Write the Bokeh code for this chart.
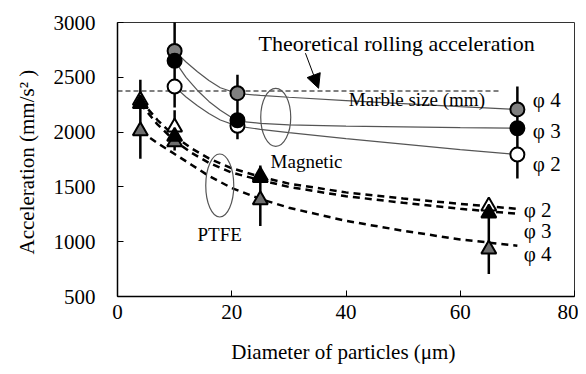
from bokeh.plotting import figure
from bokeh.models import Range1d, FixedTicker, Label, Arrow, NormalHead
from bokeh.embed import file_html
from bokeh.resources import INLINE

# ---------------- data ----------------
# Magnetic particles (circles)
mag_x = [10, 21, 70]
mag_phi4 = [2740, 2355, 2207]
mag_phi3 = [2650, 2108, 2035]
mag_phi2 = [2415, 2057, 1795]
mag_err_low = [2225, 1935, 1576]
mag_err_high = [3100, 2523, 2417]

# Magnetic fitted curves
mag_fit_x = [10, 12, 14, 16, 18, 21, 25, 30, 40, 50, 60, 70]
mag_fit_phi4 = [2740, 2640, 2550, 2470, 2405, 2352, 2335, 2318, 2288, 2260, 2232, 2207]
mag_fit_phi3 = [2650, 2500, 2380, 2280, 2200, 2100, 2080, 2066, 2055, 2047, 2040, 2035]
mag_fit_phi2 = [2415, 2320, 2240, 2170, 2110, 2055, 2025, 1995, 1940, 1890, 1840, 1795]

# PTFE particles (triangles)
ptfe_x = [4, 10, 25, 65]
ptfe_phi2 = [2290, 2045, 1600, 1324]
ptfe_phi3 = [2260, 1960, 1585, 1261]
ptfe_phi4 = [2010, 1910, 1381, 931]
ptfe_err_low = [1757, 1832, 1144, 705]
ptfe_err_high = [2477, 2200, 1696, 1396]

# PTFE fitted curves
ptfe_fit_x = [4, 7, 10, 13, 16, 20, 25, 30, 40, 50, 60, 70]
ptfe_fit_phi2 = [2290, 2110, 1960, 1850, 1760, 1670, 1592, 1530, 1450, 1395, 1345, 1300]
ptfe_fit_phi3 = [2260, 2070, 1920, 1810, 1720, 1630, 1562, 1500, 1415, 1355, 1300, 1255]
ptfe_fit_phi4 = [2010, 1900, 1800, 1700, 1600, 1490, 1390, 1310, 1190, 1100, 1020, 964]

# theoretical rolling acceleration
theory_x = [0, 67]
theory_y = [2375, 2375]

x_ticks = [0, 20, 40, 60, 80]
y_ticks = [500, 1000, 1500, 2000, 2500, 3000]

FONT = "Liberation Serif"

p = figure(width=578, height=366, output_backend="svg", toolbar_location=None,
           x_range=Range1d(0, 80), y_range=Range1d(500, 3000),
           min_border_left=117, min_border_right=4, min_border_top=22, min_border_bottom=68)
p.xgrid.visible = False
p.ygrid.visible = False
p.outline_line_color = "#333333"
p.outline_line_width = 1
p.background_fill_color = "white"
p.border_fill_color = "white"

for ax in (p.xaxis[0], p.yaxis[0]):
    ax.axis_line_color = "black"
    ax.axis_line_width = 1.5
    ax.major_tick_in = 6
    ax.major_tick_out = 0
    ax.minor_tick_in = 0
    ax.minor_tick_out = 0
    ax.major_tick_line_color = "black"
    ax.major_label_text_font = FONT
    ax.major_label_text_font_size = "21px"
    ax.major_label_text_color = "black"
    ax.axis_label_text_font = FONT
    ax.axis_label_text_font_size = "21px"
    ax.axis_label_text_font_style = "normal"
    ax.axis_label_text_color = "black"

p.xaxis.ticker = FixedTicker(ticks=x_ticks)
p.yaxis.ticker = FixedTicker(ticks=y_ticks)
p.xaxis.major_label_standoff = 8
p.yaxis.major_label_standoff = 22
p.xaxis.axis_label = "Diameter  of particles (\u03bcm)"
p.yaxis.axis_label = "Acceleration  (mm/s\u00b2 )"
p.xaxis.axis_label_standoff = 18
p.yaxis.axis_label_standoff = 12

# theoretical line
p.line(theory_x, theory_y, line_color="black", line_width=1, line_dash="5 3")

# magnetic fit curves
for ys in (mag_fit_phi4, mag_fit_phi3, mag_fit_phi2):
    p.line(mag_fit_x, ys, line_color="#555555", line_width=1.2)

# PTFE fit curves
for ys in (ptfe_fit_phi2, ptfe_fit_phi3, ptfe_fit_phi4):
    p.line(ptfe_fit_x, ys, line_color="black", line_width=2.5, line_dash="7 5")

# error bars
p.segment(x0=mag_x, y0=mag_err_low, x1=mag_x, y1=mag_err_high, line_color="black", line_width=2.5)
p.segment(x0=ptfe_x, y0=ptfe_err_low, x1=ptfe_x, y1=ptfe_err_high, line_color="black", line_width=2.5)

# markers - PTFE
p.scatter(ptfe_x, ptfe_phi2, marker="triangle", size=15, fill_color="white", line_color="black", line_width=2)
p.scatter(ptfe_x, ptfe_phi4, marker="triangle", size=15, fill_color="#6e6e6e", line_color="black", line_width=2)
p.scatter(ptfe_x, ptfe_phi3, marker="triangle", size=15, fill_color="black", line_color="black", line_width=2)

# markers - magnetic
p.scatter(mag_x, mag_phi2, marker="circle", size=14, fill_color="white", line_color="black", line_width=2)
p.scatter(mag_x, mag_phi4, marker="circle", size=14, fill_color="#808080", line_color="black", line_width=2)
p.scatter(mag_x, mag_phi3, marker="circle", size=14, fill_color="black", line_color="black", line_width=2)

# ellipses
p.ellipse(x=[27.7], y=[2135], width=[30], height=[58], width_units="screen", height_units="screen",
          fill_alpha=0, line_color="#555555", line_width=1.2)
p.ellipse(x=[17.9], y=[1513], width=[28], height=[63], width_units="screen", height_units="screen",
          fill_alpha=0, line_color="#555555", line_width=1.2)

# arrow
p.add_layout(Arrow(end=NormalHead(size=14, fill_color="black", line_color="black"),
                   x_start=32.9, y_start=2720, x_end=35.2, y_end=2400,
                   line_color="black", line_width=1))

def lab(x, y, t, size="21px", align="left"):
    p.add_layout(Label(x=x, y=y, text=t, text_font=FONT, text_font_size=size,
                       text_baseline="middle", text_align=align, text_color="black"))

lab(24.7, 2810, "Theoretical  rolling  acceleration", size="22px")
lab(40.5, 2300, "Marble size (mm)", size="19px")
lab(26.8, 1730, "Magnetic", size="19px")
lab(14.0, 1066, "PTFE", size="19px")

lab(72.7, 2297, "\u03c6 4")
lab(72.7, 2012, "\u03c6 3")
lab(72.7, 1712, "\u03c6 2")
lab(71.1, 1291, "\u03c6 2")
lab(71.1, 1099, "\u03c6 3")
lab(71.1, 885, "\u03c6 4")

open("out.html", "w").write(file_html(p, INLINE))
